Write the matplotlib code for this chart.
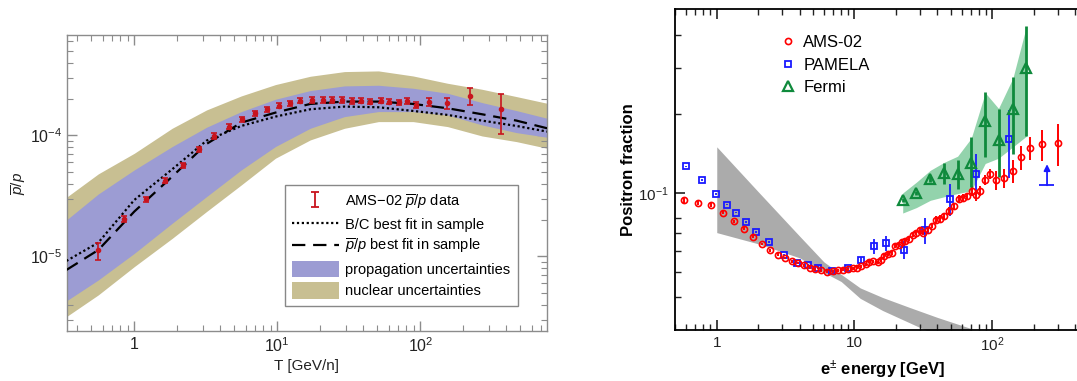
import numpy as np
import matplotlib
matplotlib.use('Agg')
import matplotlib.pyplot as plt
from matplotlib.ticker import FixedLocator, NullFormatter, FixedFormatter, LogLocator
from matplotlib.patches import Patch
from matplotlib.lines import Line2D

plt.rcParams['font.family'] = ['Liberation Sans', 'DejaVu Sans']
plt.rcParams['mathtext.fontset'] = 'custom'
plt.rcParams['mathtext.rm'] = 'Liberation Sans'
plt.rcParams['mathtext.it'] = 'Liberation Sans:italic'
plt.rcParams['mathtext.bf'] = 'Liberation Sans:bold'
plt.rcParams['mathtext.sf'] = 'Liberation Sans'

# ---------------- left panel: antiproton / proton ----------------
T_ams = [0.56, 0.85, 1.21, 1.65, 2.2, 2.85, 3.6, 4.59, 5.68, 6.97, 8.46, 10.3, 12.3,
         14.5, 17.4, 20.8, 24.2, 28.2, 33.3, 38.5, 44.7, 52.7, 60.6, 70.7, 81.2,
         93.3, 114.5, 152.8, 222.7, 366.5]
pbar_ams = [1.13e-5, 2.03e-5, 2.97e-5, 4.23e-5, 5.67e-5, 7.69e-5, 9.90e-5, 1.182e-4,
            1.361e-4, 1.526e-4, 1.646e-4, 1.763e-4, 1.845e-4, 1.939e-4, 1.965e-4,
            1.965e-4, 1.965e-4, 1.965e-4, 1.928e-4, 1.939e-4, 1.902e-4, 1.939e-4,
            1.902e-4, 1.881e-4, 1.928e-4, 1.787e-4, 1.902e-4, 1.845e-4, 2.133e-4, 1.646e-4]
pbar_err_lo = [1.95e-6, 1.2e-6, 1.5e-6, 2.1e-6, 2.8e-6, 3.8e-6, 5.0e-6, 5.9e-6, 6.8e-6,
               7.6e-6, 8.2e-6, 8.8e-6, 9.2e-6, 9.7e-6, 9.8e-6, 9.8e-6, 9.8e-6, 9.8e-6,
               9.6e-6, 9.7e-6, 9.5e-6, 9.7e-6, 9.5e-6, 9.4e-6, 9.6e-6, 1.0e-5, 1.45e-5,
               2.0e-5, 3.4e-5, 6.1e-5]
pbar_err_hi = [1.7e-6, 1.2e-6, 1.5e-6, 2.1e-6, 2.8e-6, 3.8e-6, 5.0e-6, 5.9e-6, 6.8e-6,
               7.6e-6, 8.2e-6, 8.8e-6, 9.2e-6, 9.7e-6, 9.8e-6, 9.8e-6, 9.8e-6, 9.8e-6,
               9.6e-6, 9.7e-6, 9.5e-6, 9.7e-6, 9.5e-6, 9.4e-6, 9.6e-6, 1.0e-5, 1.45e-5,
               2.0e-5, 3.5e-5, 5.5e-5]

T_model = [0.335, 0.56, 1.0, 1.84, 3.2, 5.6, 9.7, 17, 29.5, 51, 89, 155, 270, 470, 770]
bc_fit = [9.18e-6, 1.30e-5, 2.93e-5, 5.25e-5, 9.06e-5, 1.198e-4, 1.431e-4, 1.645e-4,
          1.731e-4, 1.709e-4, 1.594e-4, 1.477e-4, 1.326e-4, 1.198e-4, 1.076e-4]
pbar_fit = [7.73e-6, 1.13e-5, 2.35e-5, 4.57e-5, 8.51e-5, 1.276e-4, 1.544e-4, 1.821e-4,
            1.904e-4, 1.904e-4, 1.821e-4, 1.677e-4, 1.496e-4, 1.326e-4, 1.146e-4]
prop_hi = [2.00e-5, 3.28e-5, 5.19e-5, 8.09e-5, 1.168e-4, 1.574e-4, 1.99e-4, 2.348e-4,
           2.566e-4, 2.598e-4, 2.454e-4, 2.231e-4, 1.868e-4, 1.604e-4, 1.386e-4]
prop_lo = [4.29e-6, 6.39e-6, 1.06e-5, 1.88e-5, 3.12e-5, 5.19e-5, 8.09e-5, 1.146e-4,
           1.431e-4, 1.574e-4, 1.574e-4, 1.477e-4, 1.221e-4, 1.055e-4, 9.66e-5]
nuc_hi = [3.08e-5, 4.81e-5, 7.12e-5, 1.146e-4, 1.624e-4, 2.121e-4, 2.631e-4, 3.083e-4,
          3.37e-4, 3.413e-4, 3.10e-4, 2.698e-4, 2.407e-4, 2.094e-4, 1.844e-4]
nuc_lo = [3.18e-6, 4.81e-6, 8.24e-6, 1.41e-5, 2.35e-5, 3.90e-5, 6.48e-5, 9.18e-5,
          1.146e-4, 1.301e-4, 1.301e-4, 1.183e-4, 9.90e-5, 8.89e-5, 7.83e-5]

# ---------------- right panel: positron fraction ----------------
ams_E = [0.574, 0.729, 0.905, 1.105, 1.328, 1.577, 1.833, 2.119, 2.433, 2.767, 3.110,
         3.496, 3.882, 4.320, 4.745, 5.191, 5.737, 6.267, 6.963, 7.568, 8.227, 8.897,
         9.672, 10.46, 11.24, 12.02, 12.78, 13.66, 14.75, 15.69, 16.50, 17.43, 18.64,
         19.82, 21.01, 22.09, 23.42, 24.83, 26.45, 28.05, 29.69, 31.47, 33.98, 36.56,
         39.29, 42.01, 44.89, 48.56, 52.44, 57.00, 61.34, 65.91, 71.27, 76.58, 81.85,
         88.52, 95.59, 106.4, 122.2, 140.4, 161.4, 187.6, 230.3, 300.8]
ams_F = [0.0942, 0.0914, 0.0896, 0.0840, 0.0778, 0.0730, 0.0681, 0.0638, 0.0603, 0.0581,
         0.0564, 0.0549, 0.0540, 0.0529, 0.0519, 0.0512, 0.0506, 0.0500, 0.0502, 0.0506,
         0.0509, 0.0512, 0.0516, 0.0519, 0.0524, 0.0535, 0.0546, 0.0549, 0.0543, 0.0556,
         0.0576, 0.0584, 0.0589, 0.0629, 0.0630, 0.0649, 0.0655, 0.0669, 0.0689, 0.0703,
         0.0719, 0.0705, 0.0719, 0.0745, 0.0790, 0.0797, 0.0813, 0.0852, 0.0888, 0.0950,
         0.0959, 0.0970, 0.1016, 0.0978, 0.1016, 0.1116, 0.1184, 0.1116, 0.1139, 0.1211,
         0.1363, 0.1483, 0.1528, 0.1549]
ams_err = [0.0025, 0.0016, 0.0016, 0.0011, 0.0010, 0.0010, 0.0009, 0.0008, 0.0008, 0.0008,
           0.0007, 0.0007, 0.0007, 0.0007, 0.0007, 0.0007, 0.0007, 0.0007, 0.0007, 0.0007,
           0.0007, 0.0007, 0.0007, 0.0007, 0.0007, 0.0007, 0.0007, 0.0007, 0.0007, 0.0010,
           0.0010, 0.0010, 0.0010, 0.0011, 0.0011, 0.0011, 0.0012, 0.0012, 0.0012, 0.0012,
           0.0013, 0.0012, 0.0013, 0.0013, 0.0025, 0.0025, 0.0025, 0.0027, 0.0028, 0.0030,
           0.0030, 0.0030, 0.0046, 0.0044, 0.0046, 0.0050, 0.0053, 0.0092, 0.0094, 0.0123,
           0.0138, 0.0151, 0.0208, 0.0281]

pam_E = [0.593, 0.782, 0.988, 1.181, 1.380, 1.630, 1.927, 2.381, 3.059, 3.844, 4.587,
         5.457, 6.848, 8.897, 11.24, 13.80, 17.06, 23.03, 32.43, 49.63, 76.58, 132.8]
pam_F = [0.1262, 0.1116, 0.0990, 0.0902, 0.0840, 0.0774, 0.0707, 0.0649, 0.0581, 0.0540,
         0.0529, 0.0519, 0.0502, 0.0519, 0.0553, 0.0625, 0.0643, 0.0607, 0.0719, 0.0950,
         0.1184, 0.1600]
pam_err = [0.0008, 0.0008, 0.0007, 0.0006, 0.0006, 0.0005, 0.0005, 0.0005, 0.0005, 0.0005,
           0.0005, 0.0005, 0.0005, 0.0008, 0.0015, 0.0043, 0.0044, 0.0050, 0.0080, 0.0134,
           0.0215, 0.0464]
pam_lim_E = [250.0]
pam_lim_F = [0.1068]
pam_lim_Elo = [219.0]
pam_lim_Ehi = [281.0]
pam_lim_tip = [0.1285]

fermi_E = [22.39, 28.13, 35.54, 44.89, 56.05, 70.43, 88.97, 111.1, 141.3, 177.3]
fermi_F = [0.0936, 0.0998, 0.1126, 0.1194, 0.1184, 0.1299, 0.1879, 0.1586, 0.2084, 0.2979]
fermi_err_lo = [0.0015, 0.0015, 0.0030, 0.0110, 0.0146, 0.0247, 0.0510, 0.0437, 0.0673, 0.1336]
fermi_err_hi = [0.0015, 0.0015, 0.0030, 0.0099, 0.0154, 0.0325, 0.0533, 0.0498, 0.0683, 0.1340]
fermi_band_hi = [0.0998, 0.1097, 0.1218, 0.1307, 0.1378, 0.1614, 0.2404, 0.2096, 0.2735, 0.4319]
fermi_band_lo = [0.0837, 0.0878, 0.0936, 0.0966, 0.0993, 0.1018, 0.1293, 0.1354, 0.1495, 0.1643]

gray_E = [1.0, 2.0, 4.0, 6.0, 8.0, 11.0, 16.0, 25.0, 40.0, 70.0]
gray_hi = [0.1496, 0.1009, 0.0683, 0.0545, 0.0489, 0.0434, 0.0399, 0.0366, 0.0335, 0.0304]
gray_lo = [0.0705, 0.0639, 0.0565, 0.0497, 0.0459, 0.0396, 0.0356, 0.0320, 0.0286, 0.0257]

# ---------------- figure ----------------
W, H = 1077, 381
fig = plt.figure(figsize=(W / 100, H / 100), dpi=100)

def px_axes(x0, x1, ytop, ybot):
    return fig.add_axes([x0 / W, (H - ybot) / H, (x1 - x0) / W, (ybot - ytop) / H])

# ===== left =====
ax1 = px_axes(66.7, 546.7, 35, 331)
nuc_col = '#c8bf92'
prop_col = '#9c9cd3'
red = '#c8141e'
dotted = (0, (1, 1.2))
dashed = (0, (6, 3.5))
ax1.fill_between(T_model, nuc_lo, nuc_hi, color=nuc_col, lw=0, zorder=1)
ax1.fill_between(T_model, prop_lo, prop_hi, color=prop_col, lw=0, zorder=2)
ax1.plot(T_model, bc_fit, color='black', lw=1.6, ls=dotted, zorder=3)
ax1.plot(T_model, pbar_fit, color='black', lw=1.6, ls=dashed, zorder=3)
ax1.errorbar(T_ams, pbar_ams, yerr=[pbar_err_lo, pbar_err_hi], fmt='o', ms=3,
             color=red, ecolor=red, elinewidth=1.2, capsize=2.2, capthick=1.2, zorder=4)
eb_proxy = ax1.errorbar([np.nan], [np.nan], yerr=[[1.0], [1.0]], fmt='none', ecolor=red,
                        elinewidth=1.3, capsize=3, capthick=1.3)
ax1.set_xscale('log')
ax1.set_yscale('log')
ax1.set_xlim(0.3367, 765)
ax1.set_ylim(2.42e-6, 6.76e-4)
ax1.xaxis.set_major_locator(FixedLocator([1, 10, 100]))
ax1.xaxis.set_major_formatter(FixedFormatter(['1', '$10^1$', '$10^2$']))
ax1.xaxis.set_minor_locator(LogLocator(base=10, subs=np.arange(2, 10), numticks=20))
ax1.xaxis.set_minor_formatter(NullFormatter())
ax1.yaxis.set_major_locator(FixedLocator([1e-5, 1e-4]))
ax1.yaxis.set_major_formatter(FixedFormatter(['$10^{-5}$', '$10^{-4}$']))
ax1.yaxis.set_minor_locator(LogLocator(base=10, subs=np.arange(2, 10), numticks=20))
ax1.yaxis.set_minor_formatter(NullFormatter())
gcol = '#8c8c8c'
for s in ax1.spines.values():
    s.set_color(gcol)
    s.set_linewidth(1.0)
ax1.tick_params(which='both', direction='in', top=True, right=True, color=gcol,
                labelsize=11.5, labelcolor='#222222')
ax1.tick_params(which='major', length=7, width=1.0)
ax1.tick_params(which='minor', length=4, width=0.8)
ax1.tick_params(axis='x', pad=4)
ax1.tick_params(axis='y', pad=3)
ax1.set_xlabel('T [GeV/n]', fontsize=11, color='#222222', labelpad=3)
ax1.set_ylabel(r'$\overline{p}/p$', fontsize=11, color='#222222', labelpad=1)

handles = [eb_proxy,
           Line2D([], [], color='black', lw=1.6, ls=dotted),
           Line2D([], [], color='black', lw=1.6, ls=dashed),
           Patch(facecolor=prop_col, edgecolor='none'),
           Patch(facecolor=nuc_col, edgecolor='none')]
labels = ['AMS\u221202 $\\overline{p}/p$ data', 'B/C best fit in sample',
          '$\\overline{p}/p$ best fit in sample', 'propagation uncertainties',
          'nuclear uncertainties']
leg = ax1.legend(handles, labels, loc='upper left', bbox_to_anchor=(0.4544, 0.4932),
                 borderaxespad=0, fontsize=10.5, frameon=True, fancybox=False,
                 edgecolor='#888888', framealpha=1, handlelength=3.2, handleheight=1.35,
                 labelspacing=0.32, handletextpad=0.45, borderpad=0.5)
leg.get_frame().set_linewidth(1.0)

# ===== right =====
ax2 = px_axes(675.3, 1088.5, 9.3, 330)
ax2.fill_between(gray_E, gray_lo, gray_hi, color='#ababab', lw=0, zorder=1)
ax2.fill_between(fermi_E, fermi_band_lo, fermi_band_hi, color='#93d3ac', lw=0, zorder=1)
ax2.errorbar(pam_E, pam_F, yerr=pam_err, fmt='s', ms=4.6, mfc='none', mec='#1a1aff',
             mew=1.3, ecolor='#1a1aff', elinewidth=1.3, capsize=0, zorder=3)
ax2.errorbar(pam_lim_E, pam_lim_F,
             xerr=[[pam_lim_E[0] - pam_lim_Elo[0]], [pam_lim_Ehi[0] - pam_lim_E[0]]],
             fmt='none', ecolor='#1a1aff', elinewidth=1.3, capsize=0, zorder=3)
ax2.annotate('', xy=(pam_lim_E[0], pam_lim_tip[0]), xytext=(pam_lim_E[0], pam_lim_F[0]),
             arrowprops=dict(arrowstyle='-|>', color='#1a1aff', lw=1.3,
                             mutation_scale=9, shrinkA=0, shrinkB=0), zorder=3)
ax2.errorbar(ams_E, ams_F, yerr=ams_err, fmt='o', ms=4.4, mfc='none', mec='#ff0000',
             mew=1.2, ecolor='#ff0000', elinewidth=1.4, capsize=0, zorder=4)
ax2.errorbar(fermi_E, fermi_F, yerr=[fermi_err_lo, fermi_err_hi], fmt='^', ms=6.5,
             mfc='none', mec='#0f8a3c', mew=1.6, ecolor='#0f8a3c', elinewidth=2.0,
             capsize=0, zorder=5)
ax2.set_xscale('log')
ax2.set_yscale('log')
ax2.set_xlim(0.5, 500)
ax2.set_ylim(0.03, 0.5)
ax2.xaxis.set_major_locator(FixedLocator([1, 10, 100]))
ax2.xaxis.set_major_formatter(FixedFormatter(['1', '10', '$10^2$']))
ax2.xaxis.set_minor_locator(LogLocator(base=10, subs=np.arange(2, 10), numticks=20))
ax2.xaxis.set_minor_formatter(NullFormatter())
ax2.yaxis.set_major_locator(FixedLocator([0.1]))
ax2.yaxis.set_major_formatter(FixedFormatter(['$10^{-1}$']))
ax2.yaxis.set_minor_locator(FixedLocator([0.04, 0.05, 0.06, 0.07, 0.08, 0.2, 0.3, 0.4]))
ax2.yaxis.set_minor_formatter(NullFormatter())
for s in ax2.spines.values():
    s.set_color('black')
    s.set_linewidth(1.3)
ax2.tick_params(which='both', direction='in', top=True, right=True, color='#222222',
                labelsize=11, labelcolor='#222222')
ax2.tick_params(which='major', length=7, width=1.2)
ax2.tick_params(which='minor', length=4, width=1.0)
ax2.tick_params(axis='x', pad=4)
ax2.tick_params(axis='y', pad=5)
ax2.set_xlabel('e$^{\\pm}$ energy [GeV]', fontsize=12, fontweight='bold')
ax2.set_ylabel('Positron fraction', fontsize=12, fontweight='bold')
AW = 1088.5 - 675.3
AH = 330 - 9.3
ax2.xaxis.set_label_coords((883 - 675.3) / AW, -(359 - 330) / AH)
ax2.yaxis.set_label_coords(-(675.3 - 636) / AW, 0.5)

h2 = [Line2D([], [], ls='none', marker='o', ms=4.4, mfc='none', mec='#ff0000', mew=1.2),
      Line2D([], [], ls='none', marker='s', ms=4.6, mfc='none', mec='#1a1aff', mew=1.3),
      Line2D([], [], ls='none', marker='^', ms=6.5, mfc='none', mec='#0f8a3c', mew=1.6)]
ax2.legend(h2, ['AMS-02', 'PAMELA', 'Fermi'], loc='upper left',
           bbox_to_anchor=(0.257, 0.92), borderaxespad=0, borderpad=0, frameon=False,
           fontsize=12, handlelength=0.8, handletextpad=0.5, labelspacing=0.46,
           numpoints=1)

fig.savefig('out.png', dpi=100)
